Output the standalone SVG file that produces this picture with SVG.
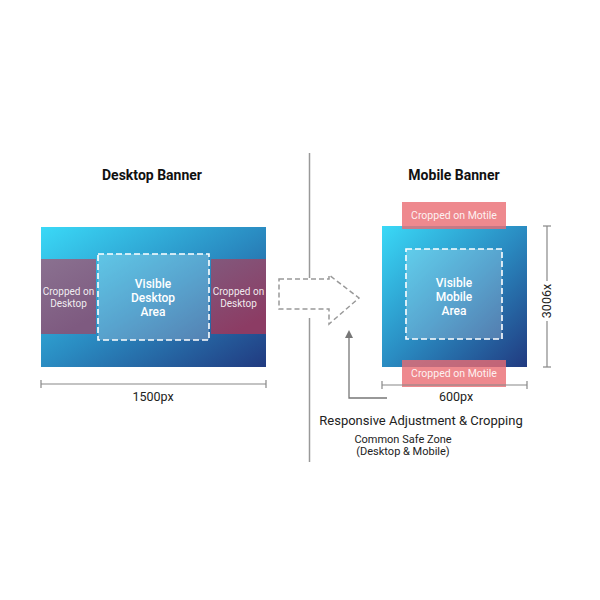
<svg xmlns="http://www.w3.org/2000/svg" width="600" height="600" viewBox="0 0 600 600">
<defs>
<linearGradient id="bg" x1="0" y1="0" x2="1" y2="1">
<stop offset="0" stop-color="#3ad9f7"/>
<stop offset="0.5" stop-color="#2a8cc2"/>
<stop offset="1" stop-color="#213a80"/>
</linearGradient>
<linearGradient id="cl" x1="0" y1="0" x2="0.4" y2="1">
<stop offset="0" stop-color="#8a7190"/>
<stop offset="1" stop-color="#7e5a80"/>
</linearGradient>
<linearGradient id="cr" x1="0" y1="0" x2="0.4" y2="1">
<stop offset="0" stop-color="#82587c"/>
<stop offset="1" stop-color="#8c3c64"/>
</linearGradient>
<marker id="ah" markerWidth="8" markerHeight="8" refX="4" refY="4" orient="auto" markerUnits="userSpaceOnUse">
<path d="M0,0 L8,4 L0,8 Z" fill="#777"/>
</marker>
<style>
.title{font-family:Roboto,"Liberation Sans",sans-serif;font-weight:bold;font-size:14px;fill:#111;text-anchor:middle}
.lbl{font-family:Roboto,"Liberation Sans",sans-serif;font-size:12.5px;fill:#222;text-anchor:middle}
.sm{font-family:Roboto,"Liberation Sans",sans-serif;font-size:11px;fill:#222;text-anchor:middle}
.wt{font-family:Roboto,"Liberation Sans",sans-serif;font-size:10px;fill:#fff;fill-opacity:0.9;text-anchor:middle}
.wm{font-family:Roboto,"Liberation Sans",sans-serif;font-size:10.5px;fill:#fff;fill-opacity:0.9;text-anchor:middle}
.wb{font-family:Roboto,"Liberation Sans",sans-serif;font-size:12px;font-weight:500;fill:#fff;text-anchor:middle}
.safe{fill:#ffffff;fill-opacity:0.22;stroke:#fff;stroke-width:1.6;stroke-dasharray:6 3}
.dim{stroke:#888;stroke-width:1.2;fill:none}
</style>
</defs>
<rect width="600" height="600" fill="#fff"/>

<g id="divider">
<line x1="309.5" y1="153" x2="309.5" y2="278" stroke="#999" stroke-width="1.5"/>
<line x1="309.5" y1="318" x2="309.5" y2="462" stroke="#999" stroke-width="1.5"/>
</g>

<g id="desktop-banner">
<text class="title" x="152" y="180">Desktop Banner</text>
<rect x="41" y="227" width="225" height="140" fill="url(#bg)"/>
<rect x="41" y="259" width="55" height="75" fill="url(#cl)"/>
<rect x="211" y="259" width="55" height="75" fill="url(#cr)"/>
<text class="wt" x="68.5" y="295">Cropped on</text>
<text class="wt" x="68.5" y="307">Desktop</text>
<text class="wt" x="238.5" y="295">Cropped on</text>
<text class="wt" x="238.5" y="307">Desktop</text>
<rect class="safe" x="98" y="254" width="111" height="86"/>
<text class="wb" x="153" y="288">Visible</text>
<text class="wb" x="153" y="302">Desktop</text>
<text class="wb" x="153" y="316">Area</text>
<line class="dim" x1="41" y1="384" x2="266" y2="384"/>
<line class="dim" x1="41" y1="380" x2="41" y2="388"/>
<line class="dim" x1="266" y1="380" x2="266" y2="388"/>
<text class="lbl" x="153" y="401">1500px</text>
</g>

<g id="transition-arrow">
<path d="M279,279 L329,279 L329,275 L359,298 L329,324 L329,309 L279,309 Z" fill="none" stroke="#999" stroke-width="1.5" stroke-dasharray="5 3"/>
</g>

<g id="mobile-banner">
<text class="title" x="454" y="180">Mobile Banner</text>
<rect x="382" y="226" width="145" height="141" fill="url(#bg)"/>
<rect x="402" y="202" width="104" height="27" fill="#ea6c72" fill-opacity="0.8"/>
<rect x="402" y="360" width="104" height="27" fill="#ea6c72" fill-opacity="0.8"/>
<text class="wm" x="454" y="219">Cropped on Motile</text>
<text class="wm" x="454" y="377">Cropped on Motile</text>
<rect class="safe" x="406" y="249" width="96" height="90"/>
<text class="wb" x="454" y="287">Visible</text>
<text class="wb" x="454" y="301">Mobile</text>
<text class="wb" x="454" y="315">Area</text>
<line class="dim" x1="547" y1="226" x2="547" y2="281"/>
<line class="dim" x1="547" y1="321" x2="547" y2="367"/>
<line class="dim" x1="543" y1="226" x2="551" y2="226"/>
<line class="dim" x1="543" y1="367" x2="551" y2="367"/>
<text class="lbl" x="0" y="0" transform="translate(551,301) rotate(-90)">3006x</text>
<line class="dim" x1="382" y1="385" x2="527" y2="385"/>
<line class="dim" x1="382" y1="381" x2="382" y2="389"/>
<line class="dim" x1="527" y1="381" x2="527" y2="389"/>
<text class="lbl" x="456" y="401">600px</text>
</g>

<g id="connectors">
<path d="M387,398 L349,398 L349,334" fill="none" stroke="#777" stroke-width="1.3" marker-end="url(#ah)"/>
</g>

<g id="caption">
<text class="lbl" x="421" y="425" style="font-size:13px">Responsive Adjustment &amp; Cropping</text>
<text class="sm" x="403" y="443">Common Safe Zone</text>
<text class="sm" x="403" y="455">(Desktop &amp; Mobile)</text>
</g>
</svg>
